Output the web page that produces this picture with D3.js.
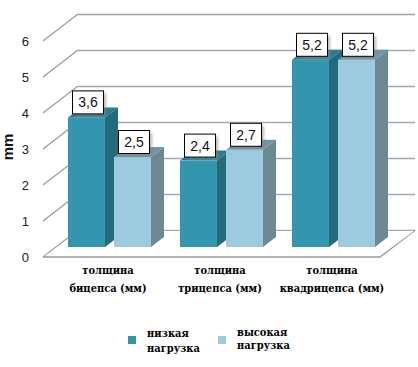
<!DOCTYPE html>
<html><head><meta charset="utf-8">
<script src="https://cdn.jsdelivr.net/npm/d3@7"></script>
<style>html,body{margin:0;padding:0;background:#fff;}svg{display:block;}
.serif{font-family:"DejaVu Serif Condensed","DejaVu Serif",serif;font-weight:bold;font-size:11px;}
</style>
</head><body>
<svg id="chart" width="418" height="367"></svg>
<script>
const categories = ["толщина бицепса (мм)", "толщина трицепса (мм)", "толщина квадрицепса (мм)"];
const seriesNames = ["низкая нагрузка", "высокая нагрузка"];
const lowLoad = [3.6, 2.4, 5.2];
const highLoad = [2.5, 2.7, 5.2];
const yTicks = [0, 1, 2, 3, 4, 5, 6];
const yLabel = "mm";

const seriesValues = [lowLoad, highLoad];
const colors = [
  {front: "#3297ae", side: "#236a7a", top: "#2b7b8e"},
  {front: "#9ccbe0", side: "#6b8993", top: "#6f95a2"}
];

const svg = d3.select("#chart");

// 3D geometry
const depthDx = 35;
const barDx = 13, barDy = -10;
const frontZero = 257, backZero = 230;
const barZero = 247;

const yBack = d3.scaleLinear().domain([0, 6]).range([backZero, backZero - 216]);
const yFront = d3.scaleLinear().domain([0, 6]).range([frontZero, frontZero - 216]);
const yBar = d3.scaleLinear().domain([0, 6]).range([barZero, barZero - 216]);

const x0 = d3.scaleBand().domain(categories).range([54, 390]);
const x1 = d3.scaleBand().domain(seriesNames).range([14, 97]).paddingInner(0.1957).paddingOuter(0);

const wallLeft = 78, wallRight = 415;
const g = svg.append("g");

// back wall gridlines
g.selectAll(".grid").data(yTicks).join("line")
  .attr("x1", wallLeft).attr("x2", wallRight)
  .attr("y1", d => yBack(d) + 0.5).attr("y2", d => yBack(d) + 0.5)
  .attr("stroke", d => d === 6 ? "#a29dab" : "#a8a8a8").attr("stroke-width", 1.6);

// left wall diagonals
g.selectAll(".diag").data(yTicks).join("line")
  .attr("x1", wallLeft - depthDx).attr("y1", d => yFront(d))
  .attr("x2", wallLeft).attr("y2", d => yBack(d))
  .attr("stroke", "#a0a0a0").attr("stroke-width", 1.4);

// floor
g.append("path")
  .attr("d", `M${wallLeft - depthDx},${frontZero} L${wallRight - depthDx},${frontZero} L${wallRight},${backZero}`)
  .attr("fill", "none").attr("stroke", "#9a9a9a").attr("stroke-width", 1.6);
g.append("polygon")
  .attr("points", `${wallLeft - depthDx + 2},${frontZero - 1} ${wallRight - depthDx},${frontZero - 1} ${wallRight - 1},${backZero + 1} ${wallLeft + 1},${backZero + 1}`)
  .attr("fill", "#fff");

const fmt = d3.formatLocale({decimal: ",", thousands: " ", grouping: [3], currency: ["", ""]}).format(".1f");
const bars = [];
categories.forEach((c, ci) => {
  seriesNames.forEach((s, si) => {
    bars.push({c, s, si, v: seriesValues[si][ci]});
  });
});

const defs = svg.append("defs");
defs.append("filter").attr("id", "sh").attr("x", "-30%").attr("y", "-30%").attr("width", "160%").attr("height", "160%")
  .append("feGaussianBlur").attr("stdDeviation", 1.6);

bars.forEach(b => {
  const x = x0(b.c) + x1(b.s);
  const w = x1.bandwidth();
  const yt = yBar(b.v), yb = yBar(0);
  const col = colors[b.si];
  g.append("polygon")
    .attr("points", `${x + w},${yt} ${x + w + barDx},${yt + barDy} ${x + w + barDx},${yb + barDy} ${x + w},${yb}`)
    .attr("fill", col.side);
  g.append("polygon")
    .attr("points", `${x},${yt} ${x + w},${yt} ${x + w + barDx},${yt + barDy} ${x + barDx},${yt + barDy}`)
    .attr("fill", col.top);
  g.append("rect").attr("x", x).attr("y", yt).attr("width", w).attr("height", yb - yt)
    .attr("fill", col.front);
});

// data labels
bars.forEach(b => {
  const x = x0(b.c) + x1(b.s) + 4;
  const yt = yBar(b.v);
  const bw = 31, bh = 23;
  const by = yt - 4 - bh;
  g.append("rect").attr("x", x + 3).attr("y", by + 3).attr("width", bw).attr("height", bh)
    .attr("fill", "#888").attr("opacity", 0.6).attr("filter", "url(#sh)");
  g.append("rect").attr("x", x + 0.5).attr("y", by + 0.5).attr("width", bw).attr("height", bh)
    .attr("fill", "#fff").attr("stroke", "#000").attr("stroke-width", 1);
  g.append("text").attr("x", x + bw / 2 + 0.5).attr("y", by + bh / 2 + 5.5)
    .attr("text-anchor", "middle")
    .style("font-family", "'Liberation Sans', Arial, sans-serif").style("font-size", "14px").attr("fill", "#111")
    .text(fmt(b.v));
});

// y axis tick labels
const axis = d3.axisLeft(yFront).tickValues(yTicks).tickSize(0).tickPadding(0).tickFormat(d3.format("d"));
const ax = svg.append("g").attr("transform", "translate(29,0)").call(axis);
ax.select(".domain").remove();
ax.selectAll("text").style("font-family", "'Liberation Sans', Arial, sans-serif").style("font-size", "13px").attr("fill", "#222");

// y label
svg.append("text").attr("transform", "translate(13,147) rotate(-90)")
  .attr("text-anchor", "middle")
  .style("font-family", "'Liberation Sans', Arial, sans-serif").style("font-size", "15px").style("font-weight", "bold")
  .attr("fill", "#111").text(yLabel);

// category labels
categories.forEach(c => {
  const cx = x0(c) + x0.bandwidth() / 2 - 2;
  const parts = c.split(" ");
  const t = svg.append("text").attr("class", "serif").attr("text-anchor", "middle").attr("fill", "#000");
  t.append("tspan").attr("x", cx).attr("y", 274).text(parts[0]);
  t.append("tspan").attr("x", cx).attr("y", 292).text(parts.slice(1).join(" "));
});

// legend
const legendX = [128, 218];
const legendTextY = [[337, 352], [336, 349]];
seriesNames.forEach((s, i) => {
  svg.append("rect").attr("x", legendX[i]).attr("y", 336).attr("width", 8).attr("height", 8)
    .attr("fill", colors[i].front);
  const parts = s.split(" ");
  const t = svg.append("text").attr("class", "serif").attr("fill", "#000");
  t.append("tspan").attr("x", legendX[i] + 19).attr("y", legendTextY[i][0]).text(parts[0]);
  t.append("tspan").attr("x", legendX[i] + 19).attr("y", legendTextY[i][1]).text(parts[1]);
});
</script>
</body></html>
